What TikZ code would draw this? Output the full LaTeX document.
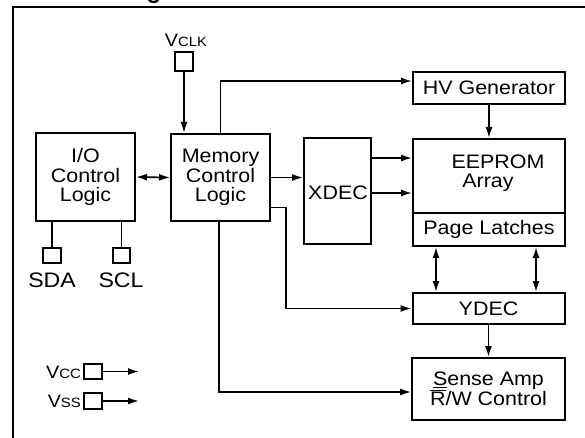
\documentclass[tikz,border=0pt]{standalone}
\usepackage{fontspec}
\setmainfont{Liberation Sans}[FakeStretch=1.1]
\newfontfamily\titlefont{Liberation Sans}
\usetikzlibrary{arrows.meta,calc}
\begin{document}
\begin{tikzpicture}[x=1pt,y=-1pt,
  box/.style={draw,line width=2pt,inner sep=0pt,align=center,font=\fontsize{19.5}{19.5}\selectfont},
  pad/.style={draw,line width=1.8pt,inner sep=0pt},
  wire/.style={line width=1.6pt},
  arr/.style={wire,-{Latex[length=11pt,width=7pt]}},
  darr/.style={wire,{Latex[length=11pt,width=7pt]}-{Latex[length=11pt,width=7pt]}},
  txt/.style={inner sep=0pt,font=\fontsize{19.5}{19.5}\selectfont},
  big/.style={inner sep=0pt,font=\fontsize{21}{21}\selectfont},
  pin/.style={inner sep=0pt}]
\useasboundingbox (0,0) rectangle (585,438);
\clip (0,0) rectangle (585,438);
\fill[white] (0,0) rectangle (585,438);
% title fragment
\node[anchor=base west,inner sep=0pt,font=\titlefont\fontsize{24}{24}\selectfont\bfseries] (title) at (37,-1) {Block Diagram};
% frame
\draw[line width=2.2pt] (13,445) -- (13,7) -- (595,7);
% boxes
\node[box,minimum width=99pt,minimum height=88pt] (io) at (85.5,177) {I/O\\Control\\Logic};
\node[box,minimum width=99pt,minimum height=87pt] (mem) at (220.5,177.5) {Memory\\Control\\Logic};
\node[box,minimum width=67pt,minimum height=106pt] (xdec) at (337.5,191) {};
\node[txt] (xdect) at (338,193) {XDEC};
\node[box,minimum width=152pt,minimum height=32pt] (hv) at (489,88) {HV Generator};
\node[box,minimum width=152pt,minimum height=74pt] (eeprom) at (489,176) {};
\node[txt] (eep1) at (498,162) {EEPROM};
\node[txt] (eep2) at (488,183) {Array};
\node[box,minimum width=152pt,minimum height=33pt] (latch) at (489,229.5) {Page Latches};
\node[box,minimum width=152pt,minimum height=31pt] (ydec) at (488.5,308.5) {YDEC};
\node[box,minimum width=153pt,minimum height=62pt] (sense) at (488.5,389) {\underline{S}ense Amp\\$\overline{\hbox{R}}$/W Control};
% pads
\node[pad,minimum width=18pt,minimum height=19pt] (vclk) at (184,61.5) {};
\node[pin] (vclkt) at (186,40) {\fontsize{18}{18}\selectfont V\fontsize{13.5}{13.5}\selectfont CLK};
\node[pad,minimum width=18pt,minimum height=15pt] (sda) at (52,255.5) {};
\node[pad,minimum width=17pt,minimum height=15pt] (scl) at (121.5,255.5) {};
\node[big] (sdat) at (52,280) {SDA};
\node[big] (sclt) at (121,280) {SCL};
\node[pad,minimum width=18pt,minimum height=15pt] (vcc) at (93,371.5) {};
\node[pad,minimum width=18pt,minimum height=16pt] (vss) at (93,401) {};
\node[pin,anchor=east] (vcct) at (81,372) {\fontsize{18}{18}\selectfont V\fontsize{13.5}{13.5}\selectfont CC};
\node[pin,anchor=east] (vsst) at (81,401) {\fontsize{18}{18}\selectfont V\fontsize{13.5}{13.5}\selectfont SS};
\coordinate (vcce) at (139,371.5);
\coordinate (vsse) at (139,401);
\coordinate (x1) at (0,158);
\coordinate (x2) at (0,193);
\coordinate (l1) at (436,0);
\coordinate (l2) at (536,0);
% connectors
\draw[arr] (vclk.south) -- (vclk.south |- mem.north);
\draw[darr] (io.east) -- (mem.west);
\draw[arr] (mem.north) |- ([yshift=7pt]hv.west);
\draw[arr] (mem.east) -- (xdec.west |- mem.east);
\draw[arr] ([yshift=-30pt]mem.east) -- ++(15,0) |- (ydec.west);
\draw[arr] ([xshift=-1.5pt]mem.south) |- ([yshift=-3pt]sense.west);
\draw[arr] (hv.south) -- (eeprom.north);
\draw[arr] (xdec.east |- x1) -- (eeprom.west |- x1);
\draw[arr] (xdec.east |- x2) -- (eeprom.west |- x2);
\draw[darr] (l1 |- latch.south) -- (l1 |- ydec.north);
\draw[darr] (l2 |- latch.south) -- (l2 |- ydec.north);
\draw[arr] (ydec.south) -- (sense.north);
\draw[wire] (sda.north |- io.south) -- (sda.north);
\draw[wire] (scl.north |- io.south) -- (scl.north);
\draw[arr] (vcc.east) -- (vcce);
\draw[arr] (vss.east) -- (vsse);
\end{tikzpicture}
\end{document}
